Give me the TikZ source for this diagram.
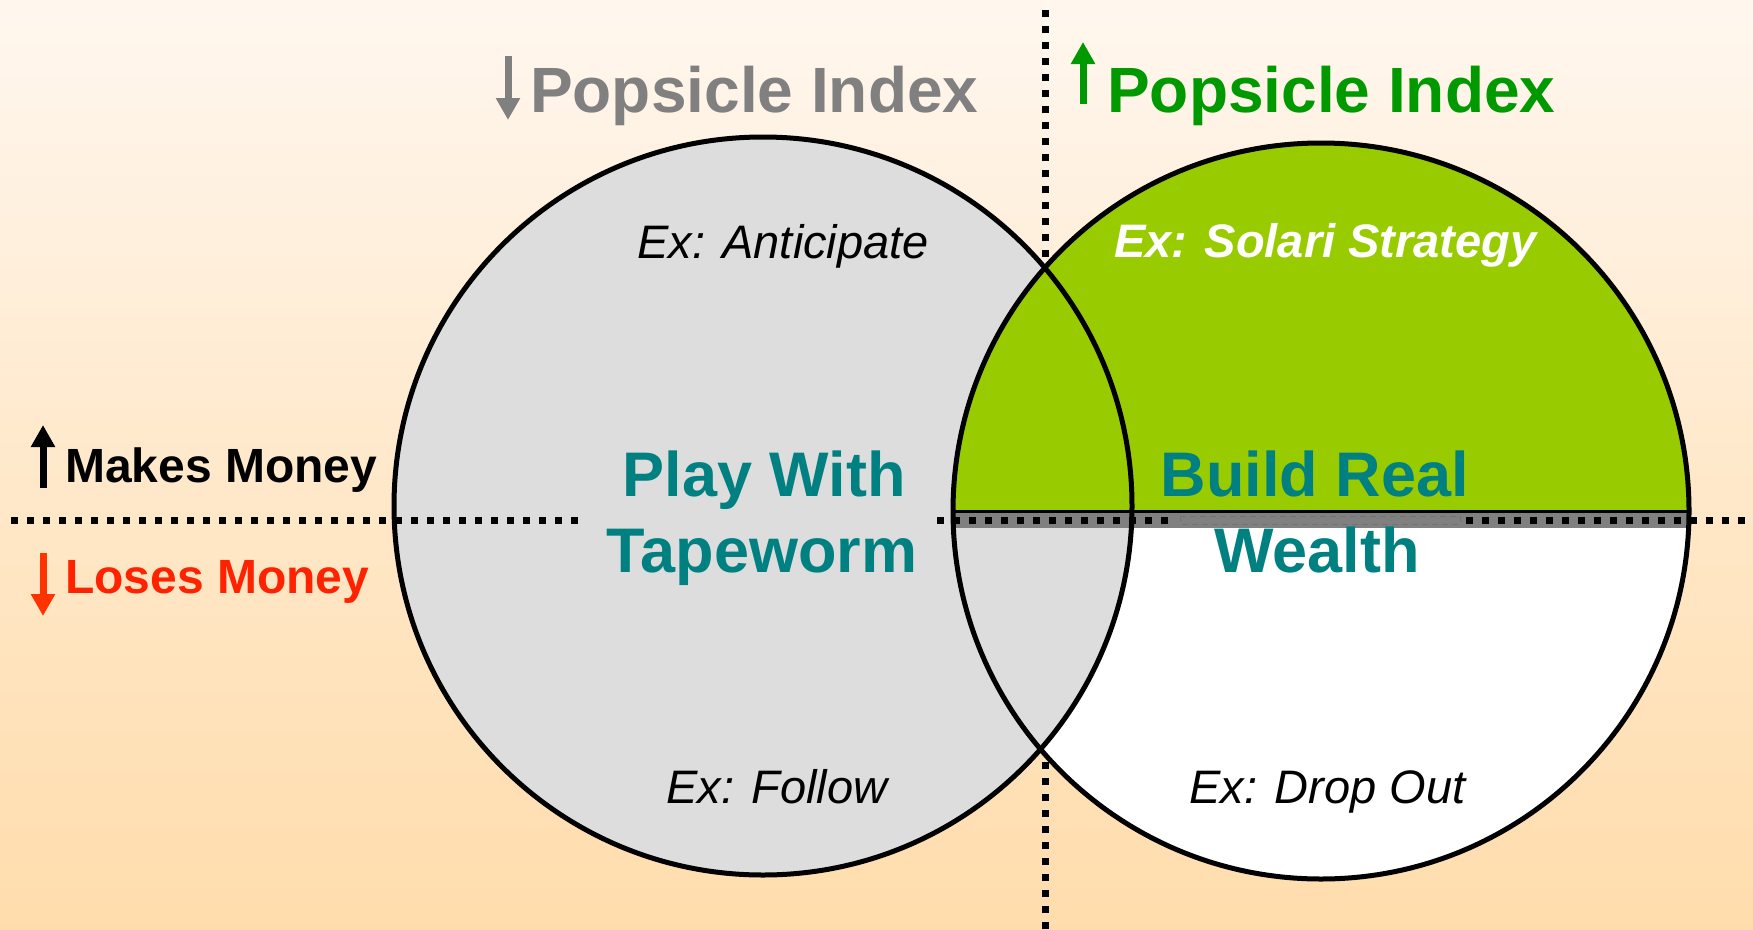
\documentclass[tikz,border=0pt]{standalone}
\usepackage{fontspec}
\setmainfont{Liberation Sans}
\usetikzlibrary{arrows.meta}
\definecolor{bgtop}{HTML}{FFFDFB}
\definecolor{bgmA}{HTML}{FFF4E8}
\definecolor{bgmB}{HTML}{FFE6C4}
\definecolor{bgbot}{HTML}{FFDAA6}
\definecolor{lgray}{HTML}{DDDDDD}
\definecolor{shadowgray}{HTML}{808080}
\definecolor{limegreen}{HTML}{99CC00}
\definecolor{tealtxt}{HTML}{008080}
\definecolor{graytxt}{HTML}{808080}
\definecolor{greentxt}{HTML}{009900}
\definecolor{redtxt}{HTML}{FF2200}
\definecolor{redarrow}{HTML}{FF3300}
\pgfdeclareverticalshading{bgshade}{100bp}{color(0bp)=(bgbot); color(20bp)=(bgbot); color(45bp)=(bgmB); color(70bp)=(bgmA); color(85bp)=(bgtop); color(100bp)=(bgtop)}
\begin{document}
\begin{tikzpicture}[x=1pt,y=-1pt,
  txt/.style={inner sep=0pt, anchor=base west},
  ctxt/.style={inner sep=0pt, anchor=base},
  headfont/.style={font=\fontsize{64}{76}\selectfont\bfseries},
  mainfont/.style={font=\fontsize{63}{76}\selectfont\bfseries, text=tealtxt},
  sidefont/.style={font=\fontsize{48}{58}\selectfont\bfseries},
  exfont/.style={font=\fontsize{47}{56}\selectfont\itshape},
  exbold/.style={font=\fontsize{47}{56}\selectfont\bfseries\itshape},
  dotline/.style={line width=7pt, dash pattern=on 7pt off 9pt},
  outline/.style={line width=5pt},
  bigarrow/.style={line width=7pt, -{Triangle[width=23pt,length=22pt]}}
]
\useasboundingbox (0,0) rectangle (1753,929);
\shade[shading=bgshade] (0,0) rectangle (1753,929);

% coordinates
\coordinate (lc) at (763,506);
\coordinate (rc) at (1321,511);

% vertical dotted line (behind the circles)
\coordinate (vtop) at (1045,10);
\coordinate (vbot) at (1045,929);
\draw[dotline] (vtop) -- (vbot);

% fills
\fill[white] (rc) circle (368pt);
\fill[lgray] (lc) circle (369pt);

% shadow of green half disk
\begin{scope}[shift={(13,15)}]
  \clip (0,0) rectangle (1753,512);
  \fill[shadowgray] (rc) circle (370pt);
\end{scope}

% green half disk
\begin{scope}
  \clip (0,0) rectangle (1753,511);
  \fill[limegreen] (rc) circle (368pt);
\end{scope}
\coordinate (gl) at (953,511);
\coordinate (gr) at (1689,511);
\draw[line width=3pt] (gl) -- (gr);

% faint text-box border inside shadow band
\coordinate (fb1) at (1180,516);
\coordinate (fb2) at (1460,524);
\draw[line width=0.8pt, color=black!55, dash pattern=on 6pt off 4pt] (fb1) rectangle (fb2);

% horizontal dotted line segments
\coordinate (h1a) at (11,520);
\coordinate (h1b) at (579,520);
\coordinate (h2a) at (937,520);
\coordinate (h2b) at (1174,520);
\coordinate (h3a) at (1466,520);
\coordinate (h3b) at (1753,520);
\draw[dotline] (h1a) -- (h1b);
\draw[dotline] (h2a) -- (h2b);
\draw[dotline] (h3a) -- (h3b);

% circle outlines
\draw[outline] (lc) circle (369pt);
\draw[outline] (rc) circle (368pt);

% headings with arrows
\coordinate (ga1) at (508,56);
\coordinate (ga2) at (508,120);
\draw[bigarrow, draw=graytxt, fill=graytxt] (ga1) -- (ga2);
\node[txt, headfont, text=graytxt] (popdown) at (530,112) {Popsicle Index};

\coordinate (gr1) at (1083,104);
\coordinate (gr2) at (1083,42);
\draw[bigarrow, draw=greentxt, fill=greentxt] (gr1) -- (gr2);
\node[txt, headfont, text=greentxt] (popup) at (1107,112) {Popsicle Index};

% side labels
\coordinate (ba1) at (43,488);
\coordinate (ba2) at (43,425);
\draw[bigarrow, draw=black, fill=black] (ba1) -- (ba2);
\node[txt, sidefont] (makes) at (65,482) {Makes Money};

\coordinate (ra1) at (43,553);
\coordinate (ra2) at (43,616);
\draw[bigarrow, draw=redarrow, fill=redarrow] (ra1) -- (ra2);
\node[txt, sidefont, text=redtxt] (loses) at (65,593) {Loses Money};

% main labels
\node[ctxt, mainfont] (play) at (764,496) {Play With};
\node[ctxt, mainfont] (tape) at (762,572) {Tapeworm};
\node[ctxt, mainfont] (build) at (1315,496) {Build Real};
\node[ctxt, mainfont] (wealth) at (1317,572) {Wealth};

% examples
\node[txt, exfont] (antic) at (637,258) {Ex: Anticipate};
\node[txt, exbold, text=white] (solari) at (1114,257) {Ex: Solari Strategy};
\node[txt, exfont] (follow) at (666,803) {Ex: Follow};
\node[txt, exfont] (drop) at (1189,803) {Ex: Drop Out};
\end{tikzpicture}
\end{document}
